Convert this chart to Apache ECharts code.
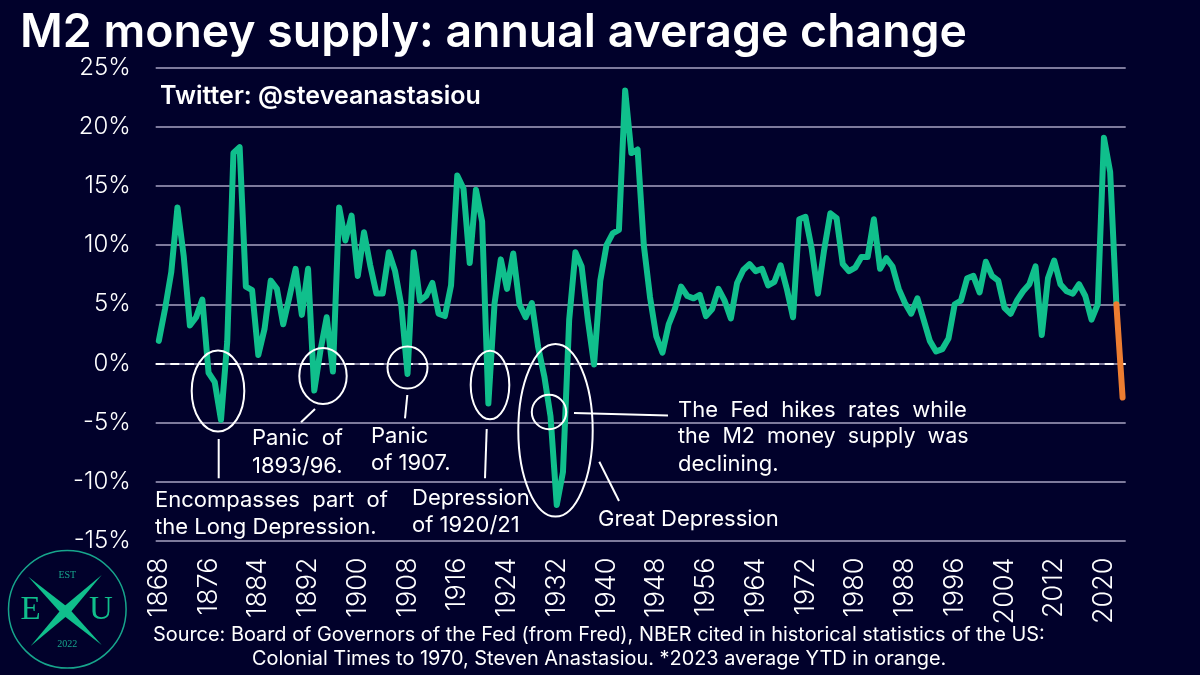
<!DOCTYPE html>
<html>
<head>
<meta charset="utf-8">
<title>M2 money supply</title>
<style>
html, body { margin: 0; padding: 0; background: #01012b; }
#chart { width: 1200px; height: 675px; }
</style>
<script src="https://cdn.jsdelivr.net/npm/echarts@6/dist/echarts.min.js"></script>
</head>
<body>
<div id="chart"></div>
<script>
var years = [
    1868, 1869, 1870, 1871, 1872, 1873, 1874, 1875, 1876, 1877, 1878, 1879,
    1880, 1881, 1882, 1883, 1884, 1885, 1886, 1887, 1888, 1889,
    1890, 1891, 1892, 1893, 1894, 1895, 1896, 1897, 1898, 1899,
    1900, 1901, 1902, 1903, 1904, 1905, 1906, 1907, 1908, 1909,
    1910, 1911, 1912, 1913, 1914, 1915, 1916, 1917, 1918, 1919,
    1920, 1921, 1922, 1923, 1924, 1925, 1926, 1927, 1928, 1929,
    1930, 1931, 1932, 1933, 1934, 1935, 1936, 1937, 1938, 1939,
    1940, 1941, 1942, 1943, 1944, 1945, 1946, 1947, 1948, 1949,
    1950, 1951, 1952, 1953, 1954, 1955, 1956, 1957, 1958, 1959,
    1960, 1961, 1962, 1963, 1964, 1965, 1966, 1967, 1968, 1969,
    1970, 1971, 1972, 1973, 1974, 1975, 1976, 1977, 1978, 1979,
    1980, 1981, 1982, 1983, 1984, 1985, 1986, 1987, 1988, 1989,
    1990, 1991, 1992, 1993, 1994, 1995, 1996, 1997, 1998, 1999,
    2000, 2001, 2002, 2003, 2004, 2005, 2006, 2007, 2008, 2009,
    2010, 2011, 2012, 2013, 2014, 2015, 2016, 2017, 2018, 2019,
    2020, 2021, 2022, 2023
];

// annual average change, %
var m2Change = [
    1.9, 4.6, 7.7, 13.2, 9.1, 3.2, 3.9, 5.4, -0.8, -1.6, -4.8, 1.8,
    17.8, 18.3, 6.5, 6.2, 0.7, 2.9, 7.0, 6.3, 3.3, 5.6,
    8.0, 4.1, 8.0, -2.3, 1.1, 3.9, -0.7, 13.2, 10.4, 12.5,
    7.4, 11.1, 8.3, 5.9, 5.9, 9.4, 7.8, 4.9, -0.9, 9.4,
    5.3, 5.7, 6.8, 4.2, 4.0, 6.6, 15.9, 14.8, 8.5, 14.7,
    12.0, -3.4, 5.1, 8.8, 6.3, 9.3, 5.0, 3.9, 5.1, 1.4,
    -1.1, -4.5, -12.0, -9.2, 3.7, 9.4, 8.2, 3.7, -0.1, 7.0,
    10.0, 11.0, 11.3, 23.1, 17.8, 18.1, 10.0, 5.6, 2.3, 0.9,
    3.3, 4.6, 6.5, 5.7, 5.5, 5.8, 4.0, 4.6, 6.3, 5.3,
    3.8, 6.8, 7.9, 8.4, 7.8, 8.0, 6.6, 6.9, 8.3, 6.3,
    3.9, 12.2, 12.4, 9.7, 5.9, 9.6, 12.7, 12.3, 8.4, 7.8,
    8.1, 9.0, 9.0, 12.2, 8.0, 8.9, 8.2, 6.3, 5.1, 4.2,
    5.5, 3.7, 1.9, 1.0, 1.2, 2.1, 5.0, 5.3, 7.2, 7.4,
    6.0, 8.6, 7.4, 7.0, 4.7, 4.2, 5.3, 6.1, 6.7, 8.2,
    2.4, 7.2, 8.7, 6.7, 6.1, 5.9, 6.7, 5.7, 3.7, 5.0,
    19.1, 16.2, 5.0
];

// 2023 YTD, drawn from the last full year
var orangeYears = ['2022', '2023'];
var orangeValues = [5.0, -2.9];

var titleText = 'M2 money supply: annual average change';
var twitterText = 'Twitter: @steveanastasiou';
var sourceLines = [
    'Source: Board of Governors of the Fed (from Fred), NBER cited in historical statistics of the US:',
    'Colonial Times to 1970, Steven Anastasiou. *2023 average YTD in orange.'
];

var BG = '#01012b', GREEN = '#10bf8c', ORANGE = '#ed7d31', GRID = '#7d7a9c', FONT = 'Inter';

function label(text, x, y, size, opts) {
    opts = opts || {};
    return {
        type: 'text', x: x, y: y, silent: true, z: 20,
        style: {
            text: text, fill: opts.fill || '#fff',
            font: (opts.weight || 400) + ' ' + size + 'px ' + (opts.family || FONT),
            textAlign: opts.align || 'left', textVerticalAlign: 'middle'
        }
    };
}
function ring(cx, cy, rx, ry) {
    return {
        type: 'ellipse', silent: true, z: 20,
        shape: { cx: cx, cy: cy, rx: rx, ry: ry },
        style: { fill: 'none', stroke: '#fff', lineWidth: 2 }
    };
}
function tick(x1, y1, x2, y2) {
    return {
        type: 'line', silent: true, z: 20,
        shape: { x1: x1, y1: y1, x2: x2, y2: y2 },
        style: { stroke: '#fff', lineWidth: 2 }
    };
}
// one blade of the logo's X
function blade(x1, y1, x2, y2, w) {
    var mx = (x1 + x2) / 2, my = (y1 + y2) / 2;
    var dx = x2 - x1, dy = y2 - y1, len = Math.sqrt(dx * dx + dy * dy);
    var nx = -dy / len * w, ny = dx / len * w;
    return {
        type: 'polygon', silent: true, z: 20,
        shape: { points: [[x1, y1], [mx + nx, my + ny], [x2, y2], [mx - nx, my - ny]] },
        style: { fill: GREEN }
    };
}

var graphics = [
    label(titleText, 20, 33, 46.4, { weight: 600 }),
    label(twitterText, 160, 96, 25, { weight: 600 }),
    label(sourceLines[0], 153, 635, 19.9),
    label(sourceLines[1], 252, 659, 19.9),

    // annotations
    ring(218, 391, 26.3, 40.5),
    ring(323, 376, 23.7, 28),
    ring(407.5, 367.5, 20, 21),
    ring(490, 385, 19.3, 34.3),
    ring(555.5, 430.3, 37.2, 86.3),
    ring(549, 412, 17.2, 17.2),
    tick(218.7, 439, 218.7, 478.3),
    tick(315, 409, 301, 422.3),
    tick(407.3, 395, 405, 418.3),
    tick(486.7, 429, 485, 478.3),
    tick(574, 413, 668, 415.5),
    tick(599.3, 461.7, 619, 501),
    label('Encompasses  part  of', 155, 500, 22),
    label('the Long Depression.', 155, 527, 22),
    label('Panic  of', 252, 438, 22),
    label('1893/96.', 252, 466, 22),
    label('Panic', 371, 436, 22),
    label('of 1907.', 371, 463, 22),
    label('Depression', 412, 498, 22),
    label('of 1920/21', 412, 525, 22),
    label('Great Depression', 598, 519, 22),
    label('The  Fed  hikes  rates  while', 678, 410, 22),
    label('the  M2  money  supply  was', 678, 437, 21.5),
    label('declining.', 678, 464, 22),

    // logo
    {
        type: 'circle', silent: true, z: 20,
        shape: { cx: 67.3, cy: 609.3, r: 58.8 },
        style: { fill: 'none', stroke: '#17a58c', lineWidth: 1.5 }
    },
    blade(28.3, 576.7, 101.7, 645, 4.5),
    blade(101.7, 575, 30.7, 646, 4.5),
    label('E', 30.7, 610, 33, { family: 'Liberation Serif', fill: GREEN, align: 'center' }),
    label('U', 101, 610, 33, { family: 'Liberation Serif', fill: GREEN, align: 'center' }),
    label('EST', 67.3, 575, 10, { family: 'Liberation Serif', fill: '#17a58c', align: 'center' }),
    label('2022', 67.3, 644, 10, { family: 'Liberation Serif', fill: '#17a58c', align: 'center' })
];

var option = {
    backgroundColor: BG,
    animation: false,
    textStyle: { fontFamily: FONT },
    grid: { left: 155.7, right: 74.3, top: 68, height: 472.5 },
    xAxis: {
        type: 'category',
        data: years,
        axisLine: { show: false },
        axisTick: { show: false },
        axisLabel: {
            interval: 7, rotate: 90, margin: 17,
            color: '#fff', fontSize: 27, fontWeight: 300, fontFamily: FONT
        }
    },
    yAxis: {
        type: 'value',
        min: -15, max: 25, interval: 5,
        axisLine: { show: false },
        axisTick: { show: false },
        axisLabel: {
            formatter: '{value}%', margin: 25,
            color: '#fff', fontSize: 24, fontWeight: 300, fontFamily: FONT
        },
        splitLine: { lineStyle: { color: GRID, width: 2 } }
    },
    series: [
        {
            name: 'M2',
            type: 'line',
            data: m2Change,
            showSymbol: false,
            z: 5,
            lineStyle: { color: GREEN, width: 6, join: 'round', cap: 'round' },
            markLine: {
                silent: true,
                symbol: 'none',
                label: { show: false },
                z: 3,
                lineStyle: { color: '#fff', width: 2, type: [9, 5.6] },
                data: [{ yAxis: 0 }]
            }
        },
        {
            name: '2023 YTD',
            type: 'line',
            data: orangeYears.map(function (y, i) { return [y, orangeValues[i]]; }),
            showSymbol: false,
            z: 6,
            lineStyle: { color: ORANGE, width: 6, join: 'round', cap: 'round' }
        }
    ],
    graphic: graphics
};

var chart = echarts.init(document.getElementById('chart'), null, { renderer: 'canvas' });
chart.setOption(option);
</script>
</body>
</html>
